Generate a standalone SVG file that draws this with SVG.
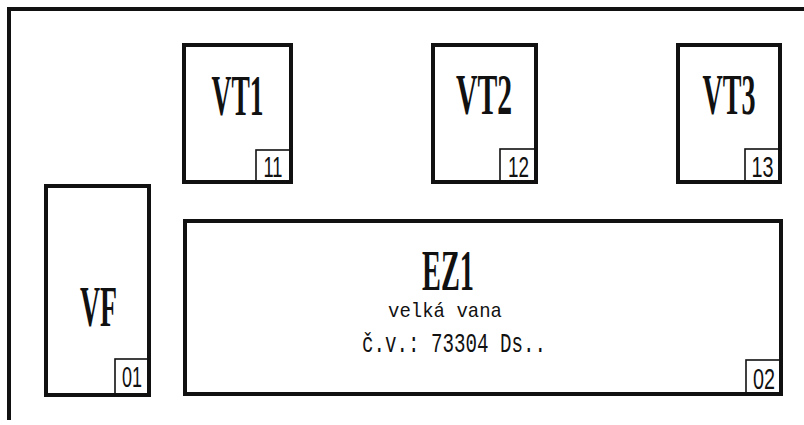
<svg xmlns="http://www.w3.org/2000/svg" width="804" height="425" viewBox="0 0 804 425">
<style>
.box{fill:none;stroke:#111;stroke-width:4}
.tag{fill:none;stroke:#111;stroke-width:1.6}
.big{font-family:"Liberation Serif",serif;font-weight:bold;font-size:57px;fill:#111;text-anchor:middle}
.num{font-family:"Liberation Sans",sans-serif;font-size:29px;fill:#111;text-anchor:middle}
.mono{font-family:"Liberation Mono",monospace;fill:#111}
</style>
<rect width="804" height="425" fill="#fff"/>
<g id="frame"><path d="M9 420 V9 H804" fill="none" stroke="#111" stroke-width="4"/></g>
<g id="connectors"></g>
<g id="VT1">
<rect class="box" x="184" y="45" width="107" height="137"/>
<rect class="tag" x="256" y="150" width="35" height="32"/>
<text class="big" x="237.5" y="115" textLength="52" lengthAdjust="spacingAndGlyphs">VT1</text>
<text class="num" x="273" y="177" textLength="19" lengthAdjust="spacingAndGlyphs">11</text>
</g>
<g id="VT2">
<rect class="box" x="433" y="45" width="103" height="137"/>
<rect class="tag" x="500" y="149" width="36" height="33"/>
<text class="big" x="484" y="114" textLength="56" lengthAdjust="spacingAndGlyphs">VT2</text>
<text class="num" x="518.5" y="177" textLength="21" lengthAdjust="spacingAndGlyphs">12</text>
</g>
<g id="VT3">
<rect class="box" x="678" y="45" width="102" height="137"/>
<rect class="tag" x="745" y="149" width="35" height="33"/>
<text class="big" x="729" y="114" textLength="53" lengthAdjust="spacingAndGlyphs">VT3</text>
<text class="num" x="762.5" y="177" textLength="22" lengthAdjust="spacingAndGlyphs">13</text>
</g>
<g id="VF">
<rect class="box" x="46" y="186" width="103" height="209"/>
<rect class="tag" x="115" y="359" width="34" height="36"/>
<text class="big" x="98.5" y="326" textLength="37" lengthAdjust="spacingAndGlyphs">VF</text>
<text class="num" x="132" y="387" textLength="20" lengthAdjust="spacingAndGlyphs">01</text>
</g>
<g id="EZ1">
<rect class="box" x="185" y="221" width="596" height="173"/>
<rect class="tag" x="746" y="360" width="35" height="34"/>
<text class="big" x="448" y="290" font-size="53" textLength="52" lengthAdjust="spacingAndGlyphs">EZ1</text>
<text class="mono" x="388" y="317" font-size="21" textLength="114" lengthAdjust="spacingAndGlyphs">velká vana</text>
<text class="mono" x="362" y="352" font-size="27" textLength="184" lengthAdjust="spacingAndGlyphs">č.v.: 73304 Ds..</text>
<text class="num" x="764" y="389" textLength="22" lengthAdjust="spacingAndGlyphs">02</text>
</g>
</svg>
